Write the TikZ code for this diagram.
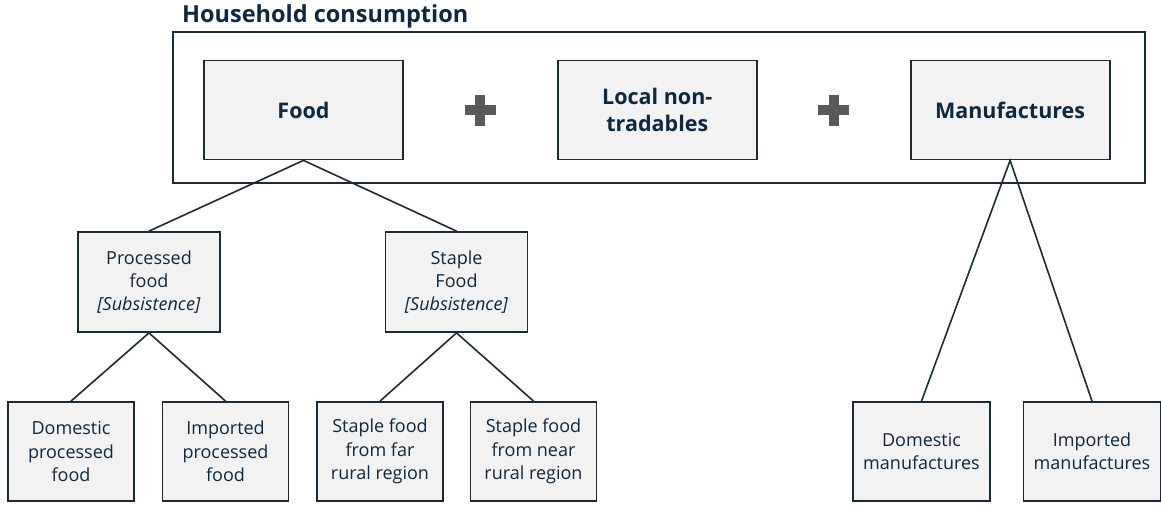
\documentclass[tikz,border=0pt]{standalone}
\usepackage{fontspec}
\setmainfont{Open Sans}
\usepackage{tikz}
\usetikzlibrary{positioning,calc}

\definecolor{navy}{HTML}{0E2841}
\definecolor{edge}{HTML}{1A2B36}
\definecolor{boxfill}{HTML}{F2F2F2}
\definecolor{plusgray}{HTML}{595959}

\begin{document}
\begin{tikzpicture}[
    x=1pt, y=-1pt,
    node distance=153pt,
    topbox/.style={rectangle, draw=edge, line width=1.8pt, fill=boxfill, minimum width=199pt, minimum height=99pt, inner sep=0pt, align=center, text=navy, font=\fontsize{21.5}{27.7}\selectfont\bfseries},
    midbox/.style={rectangle, draw=edge, line width=1.8pt, fill=boxfill, minimum width=142pt, minimum height=100pt, inner sep=0pt, align=center, text=navy, font=\fontsize{18}{23.3}\selectfont},
    leafbox/.style={midbox, minimum width=126pt, minimum height=99pt},
    manbox/.style={midbox, minimum width=137pt, minimum height=99pt},
    link/.style={draw=edge, line width=1.6pt}
]
    \useasboundingbox (0,0) rectangle (1161,504);

    % outer frame and its title
    \draw [draw=edge, line width=2.4pt] (173,32) rectangle (1145,183);
    \node [anchor=base west, inner sep=0pt, text=navy, font=\fontsize{23.5}{28}\selectfont\bfseries] (title) at (182,22) {Household consumption};

    % top row
    \node [topbox] (food) at (303.5,110) {Food};
    \node [topbox, right=of food] (local) {Local non-\\tradables};
    \node [topbox, right=152pt of local] (manuf) {Manufactures};

    % plus signs
    \foreach \a/\b in {food/local, local/manuf} {
        \coordinate (p) at ($(\a.east)!0.5!(\b.west)$);
        \fill [plusgray] ($(p)+(-15.5,-5)$) rectangle ($(p)+(15.5,5)$);
        \fill [plusgray] ($(p)+(-5,-15.5)$) rectangle ($(p)+(5,15.5)$);
    }

    % second row
    \node [midbox] (procfood) at (149,282) {Processed\\food\\\textit{[Subsistence]}};
    \node [midbox] (staple) at (456.5,282) {Staple\\Food\\\textit{[Subsistence]}};

    % bottom row
    \node [leafbox] (domproc) at (71,451.5) {Domestic\\processed\\food};
    \node [leafbox] (impproc) at (225.5,451.5) {Imported\\processed\\food};
    \node [leafbox] (farstaple) at (380,451.5) {Staple food\\from far\\rural region};
    \node [leafbox] (nearstaple) at (533.5,451.5) {Staple food\\from near\\rural region};
    \node [manbox] (dommanuf) at (921.5,451.5) {Domestic\\manufactures};
    \node [manbox] (impmanuf) at (1092,451.5) {Imported\\manufactures};

    % tree links
    \draw [link] (procfood.north) -- (food.south) -- (staple.north);
    \draw [link] (domproc.north) -- (procfood.south) -- (impproc.north);
    \draw [link] (farstaple.north) -- (staple.south) -- (nearstaple.north);
    \draw [link] (dommanuf.north) -- (manuf.south) -- (impmanuf.north);
\end{tikzpicture}
\end{document}
